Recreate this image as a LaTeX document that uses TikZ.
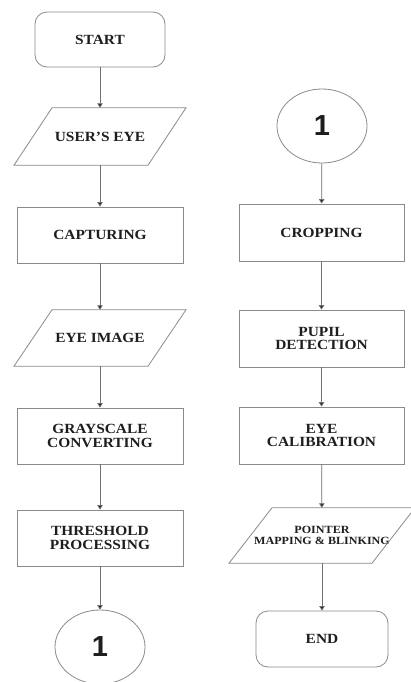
\documentclass[tikz,border=0pt]{standalone}
\usepackage{fontspec}
\newfontfamily\lbl[FakeStretch=1.1]{Liberation Serif}
\newfontfamily\dig{Liberation Sans}
\usetikzlibrary{shapes.geometric,arrows.meta}
\definecolor{boxc}{HTML}{8A8A8A}
\definecolor{linec}{HTML}{707070}
\definecolor{txt}{HTML}{1E1E1E}
\newcommand\paragram[3]{\draw[draw=boxc,line width=0.8pt]
  ([xshift=#3-#2]#1.north) -- ([xshift=#3+#2]#1.north) --
  ([xshift=-#3+#2]#1.south) -- ([xshift=-#3-#2]#1.south) -- cycle;}
\begin{document}
\begin{tikzpicture}[x=1pt,y=-1pt,
  lab/.style={align=center, text=txt, font=\lbl\bfseries\fontsize{14}{13.5}\selectfont},
  box/.style={lab, draw=boxc, line width=0.8pt, rectangle, minimum width=166pt,
    minimum height=57pt, inner sep=0pt},
  term/.style={box, rounded corners=12pt, minimum width=130pt, minimum height=55pt},
  io/.style={lab, rectangle, inner sep=0pt, minimum width=10pt},
  conn/.style={ellipse, draw=boxc, line width=0.8pt, minimum width=90pt,
    minimum height=74pt, inner sep=0pt, text=txt,
    font=\dig\bfseries\fontsize{29}{29}\selectfont},
  flow/.style={draw=linec, line width=0.8pt, -{Triangle[width=5.5pt,length=4.5pt,fill=txt]}}]
\fill[white] (0,0) rectangle (410,682);
\useasboundingbox (0,0) rectangle (410,682);
% left column
\node[term] (start) at (100,39.5) {START};
\node[io, minimum height=57pt] (user) at (100,136.5) {USER’S EYE};
\paragram{user}{67pt}{19pt}
\node[box, minimum height=56pt] (capt) at (100,235) {CAPTURING};
\node[io, minimum height=56pt] (img) at (100,338) {EYE IMAGE};
\paragram{img}{67pt}{19pt}
\node[box, minimum height=56pt] (gray) at (100,436) {GRAYSCALE\\CONVERTING};
\node[box, minimum height=56pt] (thr) at (100,538) {THRESHOLD\\PROCESSING};
\node[conn] (c1) at (100,647) {1};
% right column
\node[conn] (c2) at (322,126) {1};
\node[box, minimum width=165pt] (crop) at (321.5,232.5) {CROPPING};
\node[box, minimum width=165pt] (pupil) at (321.5,338.5) {PUPIL\\DETECTION};
\node[box, minimum width=165pt] (calib) at (321.5,435.5) {EYE\\CALIBRATION};
\node[io, minimum height=55pt, font=\lbl\bfseries\fontsize{11}{10.5}\selectfont] (ptr) at (322,535.5) {POINTER\\MAPPING \& BLINKING};
\paragram{ptr}{71.5pt}{21.5pt}
\node[term, minimum width=132pt, minimum height=56pt] (end) at (322,639) {END};
% connectors
\draw[flow] (start) -- (user);
\draw[flow] (user) -- (capt);
\draw[flow] (capt) -- (img);
\draw[flow] (img) -- (gray);
\draw[flow] (gray) -- (thr);
\draw[flow] (thr) -- (c1);
\draw[flow] (c2) -- (crop);
\draw[flow] (crop) -- (pupil);
\draw[flow] (pupil) -- (calib);
\draw[flow] (calib) -- (ptr);
\draw[flow] (ptr) -- (end);
\end{tikzpicture}
\end{document}
